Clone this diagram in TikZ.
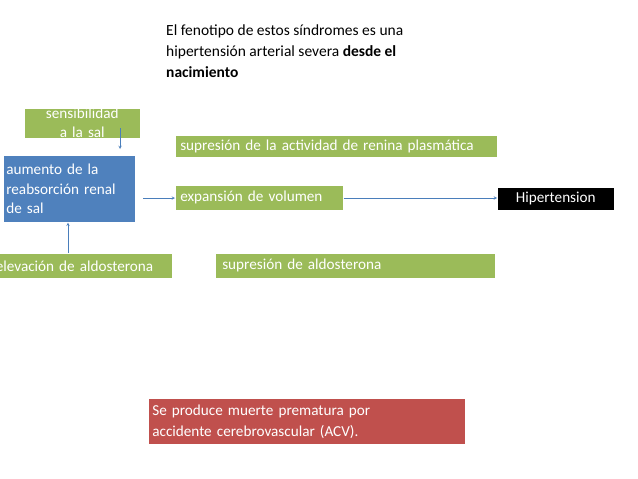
\documentclass[tikz,border=0pt]{standalone}
\usepackage{fontspec}
\setmainfont{Carlito}
\definecolor{gr}{HTML}{9BBB59}
\definecolor{bl}{HTML}{4F81BD}
\definecolor{rd}{HTML}{C0504D}
\definecolor{ar}{HTML}{4A7EBB}
\begin{document}
\begin{tikzpicture}[x=1pt,y=-1pt,
  bx/.style={anchor=north west,inner sep=0pt,text=white,font=\fontsize{15.2}{19}\selectfont,align=left,draw=white,line width=0.6pt},
  con/.style={->,draw=ar,line width=0.5pt,>=stealth}]
\useasboundingbox[fill=white] (0,0) rectangle (638,479);
\node[anchor=north west,align=left,font=\fontsize{15.5}{21}\selectfont,inner sep=0pt] (t) at (166,25)
 {El fenotipo de estos síndromes es una\\hipertensión arterial severa \textbf{desde el}\\\textbf{nacimiento}};
\node[bx,fill=gr,minimum width=116pt,minimum height=20pt,text width=112pt,inner xsep=2pt,align=center] (s) at (24,108) {sensibilidad a la sal};
\node[bx,fill=gr,minimum width=320pt,minimum height=22pt,text width=312pt,inner xsep=5pt] (r) at (175,135) {supresión de la actividad de renina plasmática};
\node[bx,fill=bl,minimum width=132pt,minimum height=67pt,text width=126pt,inner xsep=3pt,font=\fontsize{15.2}{19.5}\selectfont] (a) at (3,155) {aumento de la\\reabsorción renal\\de sal};
\node[bx,fill=gr,minimum width=165pt,minimum height=25pt,text width=158pt,inner xsep=5pt] (e) at (175,185) {expansión de volumen};
\node[bx,fill=black,minimum width=117pt,minimum height=23pt,align=center,text width=117pt] (h) at (497,187) {Hipertension};
\node[bx,fill=gr,minimum width=177pt,minimum height=25pt,text width=176pt,inner xsep=0.5pt] (el) at (-5,253) {elevación de aldosterona};
\node[bx,fill=gr,minimum width=280pt,minimum height=25pt,text width=266pt,inner xsep=7pt] (sa) at (215,253) {supresión de aldosterona};
\node[bx,fill=rd,minimum width=317pt,minimum height=46pt,text width=309pt,inner xsep=4pt,font=\fontsize{15.2}{21}\selectfont] (m) at (148,398) {Se produce muerte prematura por\\accidente cerebrovascular (ACV).};
\coordinate (sb) at (120,128);
\coordinate (sbe) at (120,149);
\draw[con] (sb) -- (sbe);
\draw[con] (143,198) -- (e.west|-143,198);
\draw[con] (e.east|-0,198) -- (h.west|-0,198);
\draw[con] (el.north-|68,0) -- (a.south-|68,0);
\end{tikzpicture}
\end{document}
